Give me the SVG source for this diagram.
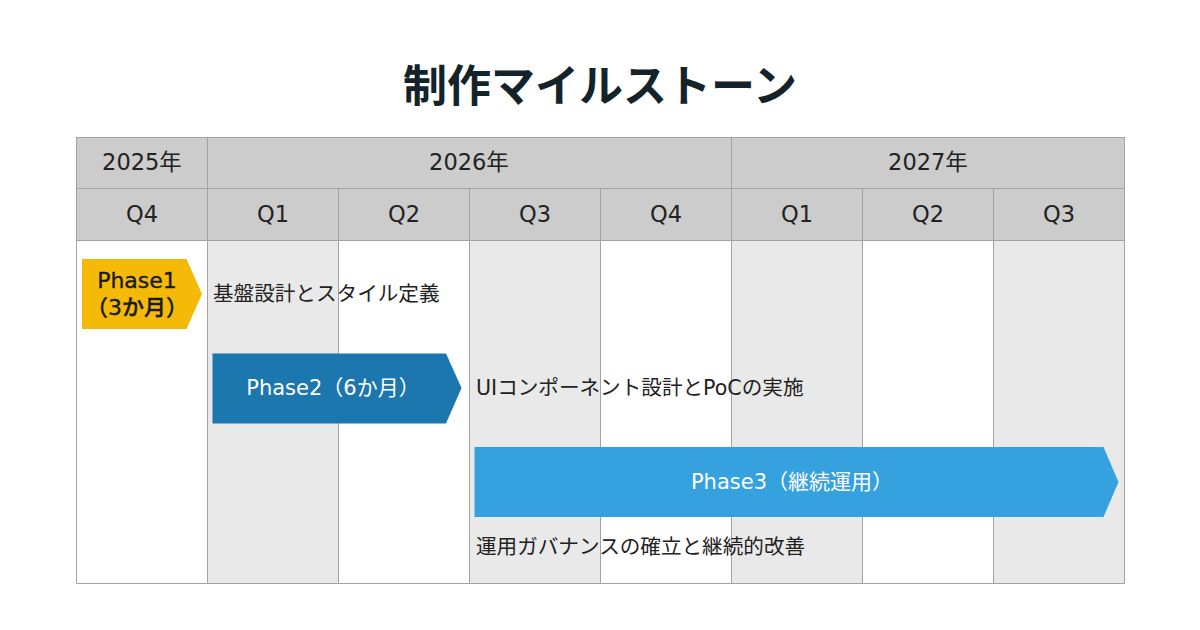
<svg xmlns="http://www.w3.org/2000/svg" width="1200" height="630" viewBox="0 0 1200 630">
<style>
text{font-family:"DejaVu Sans","Noto Sans CJK JP",sans-serif;}
.t{font-family:"Noto Sans CJK JP",sans-serif;font-size:44px;font-weight:700;fill:#14232a;text-anchor:middle;dominant-baseline:central}
.h{font-size:22.5px;fill:#222;text-anchor:middle;dominant-baseline:central}
.l{font-size:20.6px;fill:#222;dominant-baseline:central}
.pw{font-size:21px;fill:#fff;text-anchor:middle;dominant-baseline:central}
.pd{font-size:22px;fill:#1a1a1a;text-anchor:middle;dominant-baseline:central;font-weight:500;stroke:#1a1a1a;stroke-width:0.35px}
.hd{fill:#cccccc;stroke:#a3a3a3;stroke-width:1}
.g{fill:#e9e9e9}
.ln{stroke:#a3a3a3;stroke-width:1;fill:none}
</style>
<rect width="1200" height="630" fill="#fff"/>
<text class="t" x="600" y="83">制作マイルストーン</text>
<g id="table">
<rect class="g" x="207.5" y="240" width="131" height="343"/>
<rect class="g" x="469.5" y="240" width="131" height="343"/>
<rect class="g" x="731.5" y="240" width="131" height="343"/>
<rect class="g" x="993.5" y="240" width="131" height="343"/>
<rect class="hd" x="76.5" y="137.5" width="131" height="51"/>
<rect class="hd" x="207.5" y="137.5" width="524" height="51"/>
<rect class="hd" x="731.5" y="137.5" width="393" height="51"/>
<rect class="hd" x="76.5" y="188.5" width="131" height="52"/>
<rect class="hd" x="207.5" y="188.5" width="131" height="52"/>
<rect class="hd" x="338.5" y="188.5" width="131" height="52"/>
<rect class="hd" x="469.5" y="188.5" width="131" height="52"/>
<rect class="hd" x="600.5" y="188.5" width="131" height="52"/>
<rect class="hd" x="731.5" y="188.5" width="131" height="52"/>
<rect class="hd" x="862.5" y="188.5" width="131" height="52"/>
<rect class="hd" x="993.5" y="188.5" width="131" height="52"/>
<path class="ln" d="M76.5 240.5V583.5H1124.5V240.5M207.5 240.5V583.5M338.5 240.5V583.5M469.5 240.5V583.5M600.5 240.5V583.5M731.5 240.5V583.5M862.5 240.5V583.5M993.5 240.5V583.5"/>
<text class="h" x="142" y="162">2025年</text>
<text class="h" x="469" y="162">2026年</text>
<text class="h" x="928" y="162">2027年</text>
<text class="h" x="142" y="214">Q4</text>
<text class="h" x="273" y="214">Q1</text>
<text class="h" x="404" y="214">Q2</text>
<text class="h" x="535" y="214">Q3</text>
<text class="h" x="666" y="214">Q4</text>
<text class="h" x="797" y="214">Q1</text>
<text class="h" x="928" y="214">Q2</text>
<text class="h" x="1059" y="214">Q3</text>
</g>
<g id="phase1">
<polygon points="82,259 186.5,259 202,294 186.5,329 82,329" fill="#f5ba07"/>
<text class="pd" x="137" y="280.5">Phase1</text>
<text class="pd" x="137" y="307">（3か月）</text>
<text class="l" x="213" y="294">基盤設計とスタイル定義</text>
</g>
<g id="phase2">
<polygon points="212.5,353.5 446,353.5 461.5,388 446,423.5 212.5,423.5" fill="#1b77ad"/>
<text class="pw" x="333" y="388">Phase2（6か月）</text>
<text class="l" x="476" y="388">UIコンポーネント設計とPoCの実施</text>
</g>
<g id="phase3">
<polygon points="474.5,447 1103.5,447 1118.5,482 1103.5,517 474.5,517" fill="#35a2df"/>
<text class="pw" x="792" y="482">Phase3（継続運用）</text>
<text class="l" x="476" y="547">運用ガバナンスの確立と継続的改善</text>
</g>
<g id="connectors"/>
</svg>
